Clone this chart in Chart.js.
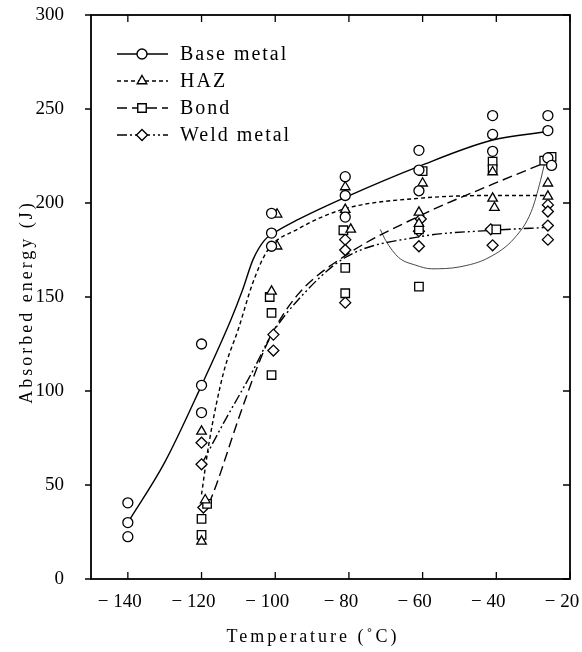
<!DOCTYPE html>
<html>
<head>
<meta charset="utf-8">
<script src="https://cdn.jsdelivr.net/npm/chart.js@4.4.1/dist/chart.umd.min.js"></script>
<style>
  html, body { margin: 0; padding: 0; background: #fff; }
  #wrap { width: 582px; height: 652px; }
</style>
</head>
<body>
<div id="wrap"><canvas id="energyChart"></canvas></div>
<script>
// tick labels
const xTicks = [-140, -120, -100, -80, -60, -40, -20];
const yTicks = [0, 50, 100, 150, 200, 250, 300];
const xTitle = 'Temperature (\u02daC)';
const yTitle = 'Absorbed energy (J)';

const seriesNames = ['Base metal', 'HAZ', 'Bond', 'Weld metal'];

// measured points [temperature, energy]
const baseMeasured = [[-140,40.5],[-140,30],[-140,22.5],[-120,125],[-120,103],[-120,88.5],
  [-101,194.5],[-101,184],[-101,177],[-81,214],[-81,204],[-81,192.5],[-61,228],[-61,217.5],[-61,206.5],
  [-41,246.5],[-41,236.5],[-41,227.5],[-26,246.5],[-26,238.5],[-26,224],[-25,220]];
const hazMeasured = [[-120,78.5],[-119,42],[-120,20],[-99.5,194],[-99.5,177],[-101,153],
  [-81,208.5],[-81,196.5],[-79.5,186],[-60,210.5],[-61,195],[-61,189],
  [-41,216.5],[-41,202.5],[-40.5,197.5],[-26,210.5],[-26,203.5]];
const bondMeasured = [[-118.5,40],[-120,32],[-120,23.5],[-101.5,150],[-101,141.5],[-101,108.5],
  [-81.5,185.5],[-81,165.5],[-81,152],[-60,217],[-61,186],[-61,155.5],
  [-41,222],[-41,218],[-40,186],[-27,222.5],[-25,224.5]];
const weldMeasured = [[-120,72.5],[-120,61],[-119.5,38],[-100.5,130],[-100.5,121.5],
  [-81,180.5],[-81,175],[-81,147],[-60.5,191.5],[-61,185],[-61,177],
  [-41.5,186],[-41,177.5],[-26,199],[-26,195.5],[-26,188],[-26,180.5]];

// fitted curves [temperature, energy]
const baseCurve = [[-140,30],[-130,62],[-120,103],[-112,138],[-109,153],[-106,170],[-103,180],[-100,184.5],
  [-94,191],[-81,203],[-61,219.5],[-41,233.5],[-26,238]];
const hazCurve = [[-120,45],[-118,72],[-114,110],[-110,133],[-106,158],[-102,175],[-94,186],
  [-81,197],[-61,202.5],[-41,204],[-26,204]];
const bondCurve = [[-118,40],[-116,50],[-110,85],[-104,117],[-101,130],[-94,151],[-81,172],
  [-61,193],[-41,210],[-26,222]];
const weldCurve = [[-120,61],[-114,83],[-106,111],[-101,130],[-94,148],[-81,171],
  [-61,182],[-41,185.5],[-26,187]];
// hand-drawn loop on the original figure
const loopCurve = [[-71.5,186],[-70,180],[-66.5,171],[-62,167],[-57.5,165],[-50,166],[-42,171],
  [-35,181.5],[-30.5,195.5],[-28,212],[-26.8,222]];

const pointStyles = ['circle', 'triangle', 'rect', 'rectRot'];
const pointSizes = [5, 5.5, 6, 5.5];
const dashes = [[], [4, 3], [10, 5], [10, 3, 2, 3, 2, 3]];

const toXY = arr => arr.map(p => ({ x: p[0], y: p[1] }));
const measured = [baseMeasured, hazMeasured, bondMeasured, weldMeasured];
const curves = [baseCurve, hazCurve, bondCurve, weldCurve];

const datasets = [];
seriesNames.forEach((name, i) => {
  datasets.push({
    label: name + ' fit',
    data: toXY(curves[i]),
    borderColor: '#000',
    borderWidth: 1.4,
    borderDash: dashes[i],
    pointRadius: 0,
    cubicInterpolationMode: 'monotone',
    fill: false,
    order: 2
  });
  datasets.push({
    label: name,
    data: toXY(measured[i]),
    showLine: false,
    pointStyle: pointStyles[i],
    pointRadius: pointSizes[i],
    pointBorderWidth: 1.3,
    pointBorderColor: '#000',
    pointBackgroundColor: '#fff',
    order: 1
  });
});
datasets.push({
  label: 'loop',
  data: toXY(loopCurve),
  borderColor: '#333',
  borderWidth: 0.9,
  pointRadius: 0,
  cubicInterpolationMode: 'monotone',
  fill: false,
  order: 3
});

const framePlugin = {
  id: 'frame',
  afterDraw(chart) {
    const { ctx, chartArea: a, scales: { x, y } } = chart;
    ctx.save();
    ctx.strokeStyle = '#000';
    ctx.lineWidth = 1.8;
    ctx.strokeRect(a.left, a.top, a.right - a.left, a.bottom - a.top);
    ctx.lineWidth = 1.3;
    ctx.beginPath();
    xTicks.forEach(v => {
      const px = x.getPixelForValue(v);
      ctx.moveTo(px, a.bottom); ctx.lineTo(px, a.bottom - 7);
      ctx.moveTo(px, a.top); ctx.lineTo(px, a.top + 7);
    });
    yTicks.forEach(v => {
      const py = y.getPixelForValue(v);
      ctx.moveTo(a.left - 6, py); ctx.lineTo(a.left, py);
      ctx.moveTo(a.right, py); ctx.lineTo(a.right - 7, py);
    });
    ctx.stroke();

    // legend, top left inside the frame
    ctx.font = '20px "Liberation Serif"';
    ctx.letterSpacing = '2px';
    ctx.textBaseline = 'middle';
    ctx.fillStyle = '#000';
    seriesNames.forEach((name, i) => {
      const ly = 54 + i * 27;
      ctx.setLineDash(dashes[i]);
      ctx.lineWidth = 1.4;
      ctx.beginPath();
      ctx.moveTo(117, ly); ctx.lineTo(168, ly);
      ctx.stroke();
      ctx.setLineDash([]);
      ctx.fillStyle = '#fff';
      Chart.helpers.drawPoint(ctx, { pointStyle: pointStyles[i], radius: pointSizes[i], rotation: 0, borderWidth: 1.3 }, 142, ly);
      ctx.fillStyle = '#000';
      ctx.fillText(name, 180, ly + 1);
    });

    // axis titles
    ctx.font = '18px "Liberation Serif"';
    ctx.letterSpacing = '3px';
    ctx.textAlign = 'center';
    ctx.fillText(xTitle, 313, 637);
    ctx.translate(27, 302);
    ctx.rotate(-Math.PI / 2);
    ctx.fillText(yTitle, 0, 0);
    ctx.restore();
  }
};

const tickFont = { family: '"Liberation Serif"', size: 19 };

new Chart(document.getElementById('energyChart'), {
  type: 'line',
  data: { datasets: datasets },
  options: {
    responsive: true,
    maintainAspectRatio: false,
    animation: false,
    layout: { padding: { left: 0, top: 15, right: 12, bottom: 0 } },
    plugins: {
      legend: { display: false },
      tooltip: { enabled: false }
    },
    scales: {
      x: {
        type: 'linear',
        min: -150,
        max: -20,
        grid: { display: false },
        border: { display: false },
        afterBuildTicks: s => { s.ticks = xTicks.map(v => ({ value: v })); },
        afterFit: s => { s.height = 73; s.paddingLeft = 0; s.paddingRight = 0; },
        ticks: {
          color: '#000',
          font: tickFont,
          padding: 4,
          maxRotation: 0,
          labelOffset: -8,
          callback: v => '\u2212 ' + Math.abs(v)
        }
      },
      y: {
        min: 0,
        max: 300,
        grid: { display: false },
        border: { display: false },
        afterBuildTicks: s => { s.ticks = yTicks.map(v => ({ value: v })); },
        afterFit: s => { s.width = 91; s.paddingTop = 0; s.paddingBottom = 0; },
        ticks: { color: '#000', font: tickFont, padding: 19 }
      }
    }
  },
  plugins: [framePlugin]
});
</script>
</body>
</html>
